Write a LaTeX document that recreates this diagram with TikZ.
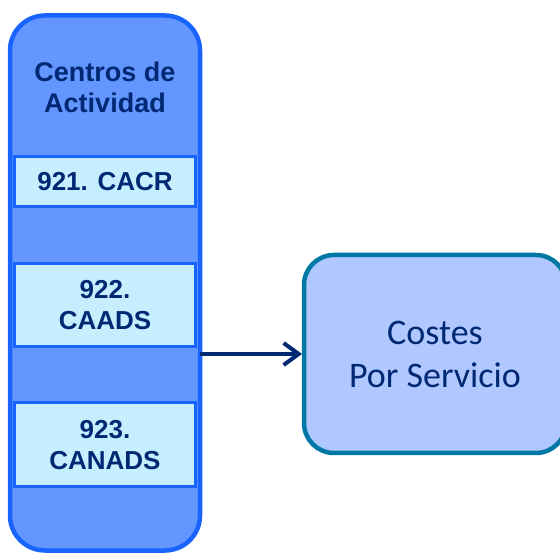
\documentclass[tikz,border=0pt]{standalone}
\usepackage{fontspec}
\setmainfont{Liberation Sans}
\newfontfamily\calibrifont{Carlito}
\usepackage{tikz}
\usetikzlibrary{arrows.meta, positioning, shapes.misc}

\definecolor{column blue}{RGB}{100,150,255}
\definecolor{column edge}{RGB}{25,100,255}
\definecolor{centre fill}{RGB}{198,238,255}
\definecolor{navy text}{RGB}{0,40,115}
\definecolor{cost fill}{RGB}{176,200,255}
\definecolor{cost edge}{RGB}{0,120,165}

\begin{document}
\begin{tikzpicture}[x=1pt,y=1pt]
\tikzset{every node/.style={inner sep=0pt, outer sep=0pt}}

\tikzstyle{column}=[rectangle,rounded corners=35pt,draw=column edge,fill=column blue,line width=4.5pt,minimum width=190pt,minimum height=535pt]
\tikzstyle{column title}=[align=center,text=navy text,font=\fontsize{27}{31}\selectfont\bfseries]
\tikzstyle{centre}=[rectangle,draw=column edge,fill=centre fill,line width=3pt,minimum width=181pt,minimum height=83.5pt,align=center,text=navy text,font=\fontsize{26}{31}\selectfont\bfseries]
\tikzstyle{service}=[rectangle,rounded corners=30pt,draw=cost edge,fill=cost fill,line width=4.5pt,minimum width=262pt,minimum height=198pt,align=center,text=navy text,font=\calibrifont\fontsize{36}{43}\selectfont]
\tikzstyle{post}=[-{Straight Barb[length=15pt,width=22pt]},line width=4pt,draw=navy text,shorten >=2pt]

\useasboundingbox (0,0) rectangle (560,552);

\node[column] (centros column) at (105,269) {};
\node[column title, below=46pt of centros column.north] (centros title) {Centros de\\Actividad};

% centres de actividad
\node[centre, minimum height=50pt, below=141pt of centros column.north] (cacr box) {921. CACR};
\node[centre, below=57pt of cacr box] (caads box) {922.\\CAADS};
\node[centre, below=56pt of caads box] (canads box) {923.\\CANADS};

\node[service] (costes servicio) at (435,198) {Costes\\Por Servicio};

\draw[post] (centros column.east |- costes servicio.west) -- (costes servicio.west);

\end{tikzpicture}
\end{document}
